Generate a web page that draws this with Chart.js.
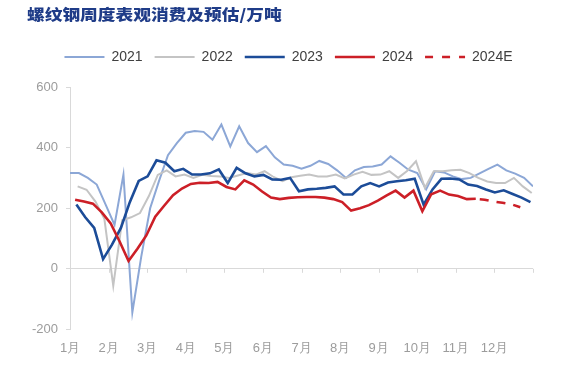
<!DOCTYPE html>
<html>
<head>
<meta charset="utf-8">
<script src="https://cdn.jsdelivr.net/npm/chart.js@4.4.1/dist/chart.umd.min.js"></script>
<style>
  html, body { margin: 0; padding: 0; background: #ffffff; }
  #wrap { position: relative; width: 572px; height: 367px; }
  #title {
    position: absolute; left: 27px; top: 4px;
    font-family: "Noto Sans CJK SC", sans-serif; font-weight: 900;
    font-size: 15px; line-height: 20px; color: #1F3C88;
    transform: scaleX(1.18); transform-origin: left center; white-space: nowrap;
  }
  canvas { position: absolute; left: 0; top: 0; }
</style>
</head>
<body>
<div id="wrap">
  <canvas id="c" width="572" height="367"></canvas>
  <div id="title">螺纹钢周度表观消费及预估/万吨</div>
</div>
<script>
// ---- data ----
const monthLabels = ['1月','2月','3月','4月','5月','6月','7月','8月','9月','10月','11月','12月'];
const seriesNames = ['2021','2022','2023','2024','2024E'];
// day of year of each series' first weekly observation
const startDays = [0, 6, 5, 4, 319];
const s2021 = [316, 316, 300, 278, 212, 145, 311, -144, 40, 200, 290, 375, 415, 449, 455, 452, 426, 476, 404, 470, 415, 385, 405, 368, 344, 340, 330, 340, 356, 346, 325, 300, 325, 336, 338, 344, 371, 350, 327, 316, 262, 322, 318, 305, 296, 300, 315, 330, 344, 325, 314, 300, 272];
const s2022 = [272, 261, 222, 165, -56, 160, 170, 184, 240, 310, 325, 305, 311, 300, 310, 306, 305, 300, 308, 316, 311, 322, 303, 289, 302, 307, 311, 305, 305, 311, 298, 311, 320, 310, 311, 322, 300, 323, 355, 267, 322, 322, 325, 327, 316, 300, 288, 283, 283, 300, 272, 250];
const s2023 = [212, 170, 135, 32, 80, 135, 220, 290, 305, 358, 350, 322, 330, 311, 311, 315, 328, 283, 333, 315, 305, 310, 295, 294, 300, 256, 262, 264, 267, 272, 245, 245, 272, 283, 272, 285, 289, 292, 297, 212, 262, 297, 298, 295, 278, 273, 262, 252, 259, 247, 235, 220];
const s2024 = [228, 222, 215, 186, 150, 90, 26, 66, 110, 172, 208, 243, 265, 280, 284, 283, 287, 270, 262, 292, 278, 255, 235, 230, 234, 236, 237, 237, 235, 230, 220, 192, 200, 210, 225, 242, 258, 235, 258, 190, 246, 258, 245, 240, 230, 231];
const s2024E = [231, 228, 222, 218, 213, 203];
const yTicks = [-200, 0, 200, 400, 600];

const allSeries = [s2021, s2022, s2023, s2024, s2024E];
const colors = ['#8CA7D6', '#C4C4C4', '#1C4C98', '#CC1F27', '#CC1F27'];
const widths = [2, 2, 2.6, 2.6, 2.6];

function toPoints(vals, start) {
  return vals.map((v, i) => ({ x: start + 7 * i, y: v }));
}

const datasets = allSeries.map((vals, i) => ({
  label: seriesNames[i],
  data: toPoints(vals, startDays[i]),
  borderColor: colors[i],
  backgroundColor: colors[i],
  borderWidth: widths[i],
  pointRadius: 0,
  tension: 0,
  fill: false,
  order: 4 - i,
  borderDash: i === 4 ? [9, 8] : [],
  borderDashOffset: i === 4 ? 13 : 0
}));

const helperPlugin = {
  id: 'helperPlugin',
  beforeInit(chart) {
    const lg = chart.legend;
    if (lg) {
      const orig = lg.fit;
      lg.fit = function () { orig.call(this); this.height += 13; };
    }
  },
  afterLayout(chart) {
    const lg = chart.legend;
    if (lg) { lg.left += 10; lg.right += 10; }
  },
  beforeDatasetsDraw(chart) {
    const xs = chart.scales.x, ys = chart.scales.y;
    const y0 = ys.getPixelForValue(0);
    const ctx = chart.ctx;
    ctx.save();
    ctx.strokeStyle = '#D9D9D9';
    ctx.lineWidth = 1;
    xs.ticks.forEach(t => {
      const px = Math.round(xs.getPixelForValue(t.value)) + 0.5;
      ctx.beginPath();
      ctx.moveTo(px, y0);
      ctx.lineTo(px, y0 + 4);
      ctx.stroke();
    });
    ctx.restore();
  }
};

new Chart(document.getElementById('c'), {
  type: 'line',
  data: { datasets },
  options: {
    responsive: false,
    animation: false,
    layout: { padding: { top: 38, left: 24, right: 39, bottom: 0 } },
    plugins: {
      tooltip: { enabled: false },
      title: { display: false },
      legend: {
        position: 'top',
        labels: {
          usePointStyle: true,
          pointStyle: 'line',
          pointStyleWidth: 40,
          boxHeight: 14,
          padding: 12,
          color: '#404040',
          font: { family: 'Liberation Sans, Arial, sans-serif', size: 14 },
          sort: (a, b) => a.datasetIndex - b.datasetIndex,
          generateLabels(chart) {
            const items = Chart.defaults.plugins.legend.labels.generateLabels(chart);
            items.forEach(it => {
              const ds = chart.data.datasets[it.datasetIndex];
              it.pointStyle = 'line';
              it.strokeStyle = ds.borderColor;
              it.fillStyle = ds.borderColor;
              it.lineWidth = ds.borderWidth;
              it.lineDash = ds.borderDash && ds.borderDash.length ? [8, 9] : [];
              it.lineDashOffset = 0;
            });
            return items;
          }
        }
      }
    },
    scales: {
      x: {
        type: 'linear',
        min: 0,
        max: 364,
        afterBuildTicks(scale) {
          const ticks = [];
          for (let i = 0; i <= monthLabels.length; i++) ticks.push({ value: i * 364 / monthLabels.length });
          scale.ticks = ticks;
        },
        grid: { display: false, drawTicks: false },
        border: { display: false },
        ticks: {
          padding: 11,
          maxRotation: 0,
          autoSkip: false,
          color: '#9C9C9C',
          font: { family: 'Liberation Sans, Arial, sans-serif', size: 13 },
          callback: (v, i) => (i < monthLabels.length ? monthLabels[i] : '')
        }
      },
      y: {
        min: -200,
        max: 600,
        afterBuildTicks(scale) { scale.ticks = yTicks.map(v => ({ value: v })); },
        grid: {
          drawOnChartArea: true,
          color: (c) => (c.tick && c.tick.value === 0 ? '#D9D9D9' : 'rgba(0,0,0,0)'),
          tickColor: '#D9D9D9',
          tickLength: 4,
          lineWidth: 1
        },
        border: { display: true, color: '#D9D9D9' },
        ticks: {
          padding: 8,
          color: '#9C9C9C',
          font: { family: 'Liberation Sans, Arial, sans-serif', size: 13 }
        }
      }
    }
  },
  plugins: [helperPlugin]
});
</script>
</body>
</html>
